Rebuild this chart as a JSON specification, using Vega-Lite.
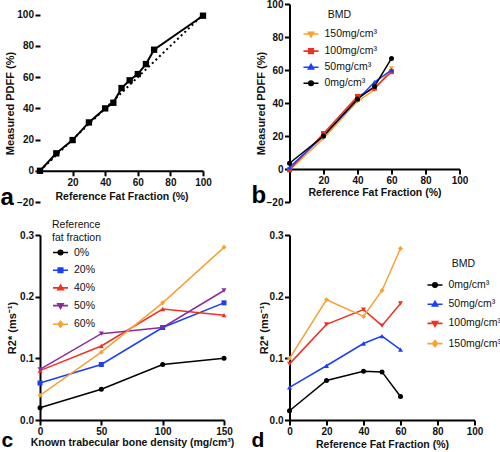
{
  "$schema": "https://vega.github.io/schema/vega-lite/v6.json",
  "padding": {"left": 0, "top": -1, "right": 0, "bottom": 0},
  "autosize": {"type": "pad"},
  "columns": 2,
  "bounds": "flush",
  "spacing": {"row": 33, "column": 65.5},
  "datasets": {
    "ident": [{"ref": 0, "pdff": 0}, {"ref": 100, "pdff": 100}],
    "a": [
      {"ref": 0, "pdff": 0}, {"ref": 10, "pdff": 11.2}, {"ref": 20, "pdff": 19.7}, {"ref": 30, "pdff": 31},
      {"ref": 40, "pdff": 40}, {"ref": 45, "pdff": 43.6}, {"ref": 50, "pdff": 53}, {"ref": 55, "pdff": 58},
      {"ref": 60, "pdff": 62}, {"ref": 65, "pdff": 68.4}, {"ref": 70, "pdff": 77.6}, {"ref": 100, "pdff": 99.4}
    ],
    "b": [
      {"bmd": "150mg/cm³", "ref": 0, "pdff": -0.5}, {"bmd": "150mg/cm³", "ref": 20, "pdff": 18.5}, {"bmd": "150mg/cm³", "ref": 40, "pdff": 41}, {"bmd": "150mg/cm³", "ref": 50, "pdff": 48}, {"bmd": "150mg/cm³", "ref": 60, "pdff": 61},
      {"bmd": "100mg/cm³", "ref": 0, "pdff": -0.5}, {"bmd": "100mg/cm³", "ref": 20, "pdff": 21.5}, {"bmd": "100mg/cm³", "ref": 40, "pdff": 44}, {"bmd": "100mg/cm³", "ref": 50, "pdff": 49}, {"bmd": "100mg/cm³", "ref": 60, "pdff": 59},
      {"bmd": "50mg/cm³", "ref": 0, "pdff": 1}, {"bmd": "50mg/cm³", "ref": 20, "pdff": 20}, {"bmd": "50mg/cm³", "ref": 40, "pdff": 42}, {"bmd": "50mg/cm³", "ref": 50, "pdff": 52.7}, {"bmd": "50mg/cm³", "ref": 60, "pdff": 60},
      {"bmd": "0mg/cm³", "ref": 0, "pdff": 3.5}, {"bmd": "0mg/cm³", "ref": 20, "pdff": 20}, {"bmd": "0mg/cm³", "ref": 40, "pdff": 42.5}, {"bmd": "0mg/cm³", "ref": 50, "pdff": 50}, {"bmd": "0mg/cm³", "ref": 60, "pdff": 67}
    ],
    "c": [
      {"ff": "0%", "bmd": 0, "r2": 0.02}, {"ff": "0%", "bmd": 50, "r2": 0.05}, {"ff": "0%", "bmd": 100, "r2": 0.09}, {"ff": "0%", "bmd": 150, "r2": 0.10},
      {"ff": "20%", "bmd": 0, "r2": 0.06}, {"ff": "20%", "bmd": 50, "r2": 0.09}, {"ff": "20%", "bmd": 100, "r2": 0.15}, {"ff": "20%", "bmd": 150, "r2": 0.19},
      {"ff": "40%", "bmd": 0, "r2": 0.08}, {"ff": "40%", "bmd": 50, "r2": 0.12}, {"ff": "40%", "bmd": 100, "r2": 0.18}, {"ff": "40%", "bmd": 150, "r2": 0.17},
      {"ff": "50%", "bmd": 0, "r2": 0.082}, {"ff": "50%", "bmd": 50, "r2": 0.14}, {"ff": "50%", "bmd": 100, "r2": 0.15}, {"ff": "50%", "bmd": 150, "r2": 0.21},
      {"ff": "60%", "bmd": 0, "r2": 0.04}, {"ff": "60%", "bmd": 50, "r2": 0.11}, {"ff": "60%", "bmd": 100, "r2": 0.19}, {"ff": "60%", "bmd": 150, "r2": 0.28}
    ],
    "d": [
      {"bmd": "0mg/cm³", "ff": 0, "r2": 0.015}, {"bmd": "0mg/cm³", "ff": 20, "r2": 0.064}, {"bmd": "0mg/cm³", "ff": 40, "r2": 0.079}, {"bmd": "0mg/cm³", "ff": 50, "r2": 0.078}, {"bmd": "0mg/cm³", "ff": 60, "r2": 0.038},
      {"bmd": "50mg/cm³", "ff": 0, "r2": 0.053}, {"bmd": "50mg/cm³", "ff": 20, "r2": 0.088}, {"bmd": "50mg/cm³", "ff": 40, "r2": 0.124}, {"bmd": "50mg/cm³", "ff": 50, "r2": 0.136}, {"bmd": "50mg/cm³", "ff": 60, "r2": 0.114},
      {"bmd": "100mg/cm³", "ff": 0, "r2": 0.091}, {"bmd": "100mg/cm³", "ff": 20, "r2": 0.155}, {"bmd": "100mg/cm³", "ff": 40, "r2": 0.179}, {"bmd": "100mg/cm³", "ff": 50, "r2": 0.153}, {"bmd": "100mg/cm³", "ff": 60, "r2": 0.189},
      {"bmd": "150mg/cm³", "ff": 0, "r2": 0.1}, {"bmd": "150mg/cm³", "ff": 20, "r2": 0.195}, {"bmd": "150mg/cm³", "ff": 40, "r2": 0.168}, {"bmd": "150mg/cm³", "ff": 50, "r2": 0.21}, {"bmd": "150mg/cm³", "ff": 60, "r2": 0.278}
    ]
  },
  "concat": [
    {
      "width": 163, "height": 198,
      "title": {"text": "a", "orient": "bottom", "anchor": "start", "frame": "group", "fontSize": 24, "fontWeight": "bold", "color": "#000", "dx": -39.5, "dy": -25},
      "encoding": {
        "x": {"field": "ref", "type": "quantitative", "scale": {"domain": [0, 100], "nice": false, "zero": false}, "axis": {"title": "Reference Fat Fraction (%)", "values": [20, 40, 60, 80, 100], "offset": -31.2, "titlePadding": 4}},
        "y": {"field": "pdff", "type": "quantitative", "scale": {"domain": [-20, 106.9], "nice": false, "zero": false}, "axis": {"title": "Measured PDFF (%)", "values": [-20, 0, 20, 40, 60, 80, 100], "domain": false, "titlePadding": 1}}
      },
      "layer": [
        {"data": {"name": "ident"}, "mark": {"type": "line", "color": "#000", "strokeWidth": 2, "strokeDash": [2, 3]}},
        {"data": {"values": [{}]}, "mark": {"type": "rule", "color": "#000", "strokeWidth": 2}, "encoding": {"x": {"datum": 0, "type": "quantitative"}, "y": {"datum": -20, "type": "quantitative"}, "y2": {"datum": 100}}},
        {"data": {"name": "a"}, "mark": {"type": "line", "color": "#000", "strokeWidth": 2, "point": {"shape": "square", "size": 40, "filled": true, "color": "#000", "opacity": 1}}}
      ]
    },
    {
      "width": 170, "height": 198,
      "title": {"text": "b", "orient": "bottom", "anchor": "start", "frame": "group", "fontSize": 24, "fontWeight": "bold", "color": "#000", "dx": -38, "dy": -27},
      "encoding": {
        "x": {"field": "ref", "type": "quantitative", "scale": {"domain": [0, 100], "nice": false, "zero": false}, "axis": {"title": "Reference Fat Fraction (%)", "values": [20, 40, 60, 80, 100], "offset": -33, "titlePadding": 2}},
        "y": {"field": "pdff", "type": "quantitative", "scale": {"domain": [-20, 100], "nice": false, "zero": false}, "axis": {"title": "Measured PDFF (%)", "values": [-20, 0, 20, 40, 60, 80, 100], "titlePadding": 0}}
      },
      "layer": [
        {"data": {"name": "b"}, "mark": {"type": "line", "strokeWidth": 1.5},
         "encoding": {"color": {"field": "bmd", "type": "nominal", "scale": {"domain": ["150mg/cm³", "100mg/cm³", "50mg/cm³", "0mg/cm³"], "range": ["#f7a232", "#ee3124", "#1c3ff2", "#000000"]}, "legend": null}}},
        {"data": {"name": "b"}, "mark": {"type": "point", "filled": true, "size": 25, "opacity": 1},
         "encoding": {
           "color": {"field": "bmd", "type": "nominal", "scale": {"domain": ["150mg/cm³", "100mg/cm³", "50mg/cm³", "0mg/cm³"], "range": ["#f7a232", "#ee3124", "#1c3ff2", "#000000"]}, "legend": null},
           "shape": {"field": "bmd", "type": "nominal", "scale": {"domain": ["150mg/cm³", "100mg/cm³", "50mg/cm³", "0mg/cm³"], "range": ["triangle-down", "square", "triangle-up", "circle"]}, "legend": null}}},
        {"data": {"values": []}, "mark": {"type": "point", "filled": false, "size": 225, "strokeWidth": 1.6, "opacity": 1},
         "encoding": {
           "x": {"datum": 0, "type": "quantitative"}, "y": {"datum": 0, "type": "quantitative"},
           "color": {"field": "bmd", "type": "nominal", "scale": {"domain": ["150mg/cm³", "100mg/cm³", "50mg/cm³", "0mg/cm³"], "range": ["#f7a232", "#ee3124", "#1c3ff2", "#000000"]},
             "legend": {"orient": "none", "legendX": 13, "legendY": 6, "title": "BMD", "titleAnchor": "middle", "symbolSize": 225, "symbolStrokeWidth": 1.6, "symbolOpacity": 1, "symbolFillColor": "transparent", "labelOffset": 5, "rowPadding": 2.1, "titlePadding": 5}},
           "shape": {"field": "bmd", "type": "nominal", "scale": {"domain": ["150mg/cm³", "100mg/cm³", "50mg/cm³", "0mg/cm³"], "range": ["M-1,0H1M0,0.38L0.35,-0.24H-0.35ZM0,0.1L0.1,-0.08H-0.1Z", "M-1,0H1M-0.3,-0.3H0.3V0.3H-0.3ZM-0.1,-0.1H0.1V0.1H-0.1Z", "M-1,0H1M0,-0.38L0.35,0.24H-0.35ZM0,-0.1L0.1,0.08H-0.1Z", "M-1,0H1M0.3,0A0.3,0.3,0,1,1,-0.3,0A0.3,0.3,0,1,1,0.3,0ZM0.1,0A0.1,0.1,0,1,1,-0.1,0A0.1,0.1,0,1,1,0.1,0Z"]},
             "legend": {"orient": "none", "legendX": 13, "legendY": 6, "title": "BMD", "titleAnchor": "middle", "symbolSize": 225, "symbolStrokeWidth": 1.6, "symbolOpacity": 1, "symbolFillColor": "transparent", "labelOffset": 5, "rowPadding": 2.1, "titlePadding": 5}}}}
      ],
      "resolve": {"scale": {"color": "independent", "shape": "independent"}}
    },
    {
      "width": 184, "height": 185,
      "title": {"text": "c", "orient": "bottom", "anchor": "start", "frame": "group", "fontSize": 21, "fontWeight": "bold", "color": "#000", "dx": -38.5, "dy": -22},
      "encoding": {
        "x": {"field": "bmd", "type": "quantitative", "scale": {"domain": [0, 150], "nice": false}, "axis": {"title": "Known trabecular bone density (mg/cm³)", "values": [0, 50, 100, 150], "titlePadding": 1, "labelPadding": 1}},
        "y": {"field": "r2", "type": "quantitative", "scale": {"domain": [0, 0.3], "nice": false}, "axis": {"title": "R2* (ms⁻¹)", "values": [0, 0.1, 0.2, 0.3], "format": ".1f", "titlePadding": 2}}
      },
      "layer": [
        {"data": {"name": "c"}, "mark": {"type": "line", "strokeWidth": 1.5},
         "encoding": {"color": {"field": "ff", "type": "nominal", "scale": {"domain": ["0%", "20%", "40%", "50%", "60%"], "range": ["#000000", "#1c3ff2", "#ee3124", "#8a2d9b", "#f7a232"]}, "legend": null}}},
        {"data": {"name": "c"}, "mark": {"type": "point", "filled": true, "size": 25, "opacity": 1},
         "encoding": {
           "color": {"field": "ff", "type": "nominal", "scale": {"domain": ["0%", "20%", "40%", "50%", "60%"], "range": ["#000000", "#1c3ff2", "#ee3124", "#8a2d9b", "#f7a232"]}, "legend": null},
           "shape": {"field": "ff", "type": "nominal", "scale": {"domain": ["0%", "20%", "40%", "50%", "60%"], "range": ["circle", "square", "triangle-up", "triangle-down", "diamond"]}, "legend": null}}},
        {"data": {"values": []}, "mark": {"type": "point", "filled": false, "size": 225, "strokeWidth": 1.6, "opacity": 1},
         "encoding": {
           "x": {"datum": 0, "type": "quantitative"}, "y": {"datum": 0, "type": "quantitative"},
           "color": {"field": "ff", "type": "nominal", "scale": {"domain": ["0%", "20%", "40%", "50%", "60%"], "range": ["#000000", "#1c3ff2", "#ee3124", "#8a2d9b", "#f7a232"]},
             "legend": {"orient": "none", "legendX": 12, "legendY": -15, "title": ["Reference", "fat fraction"], "titleLineHeight": 12.5, "titleAnchor": "start", "symbolSize": 225, "symbolStrokeWidth": 1.6, "symbolOpacity": 1, "symbolFillColor": "transparent", "labelOffset": 5, "rowPadding": 3.7, "titlePadding": 1}},
           "shape": {"field": "ff", "type": "nominal", "scale": {"domain": ["0%", "20%", "40%", "50%", "60%"], "range": ["M-1,0H1M0.3,0A0.3,0.3,0,1,1,-0.3,0A0.3,0.3,0,1,1,0.3,0ZM0.1,0A0.1,0.1,0,1,1,-0.1,0A0.1,0.1,0,1,1,0.1,0Z", "M-1,0H1M-0.3,-0.3H0.3V0.3H-0.3ZM-0.1,-0.1H0.1V0.1H-0.1Z", "M-1,0H1M0,-0.38L0.35,0.24H-0.35ZM0,-0.1L0.1,0.08H-0.1Z", "M-1,0H1M0,0.38L0.35,-0.24H-0.35ZM0,0.1L0.1,-0.08H-0.1Z", "M-1,0H1M0,-0.4L0.32,0L0,0.4L-0.32,0ZM0,-0.12L0.1,0L0,0.12L-0.1,0Z"]},
             "legend": {"orient": "none", "legendX": 12, "legendY": -15, "title": ["Reference", "fat fraction"], "titleLineHeight": 12.5, "titleAnchor": "start", "symbolSize": 225, "symbolStrokeWidth": 1.6, "symbolOpacity": 1, "symbolFillColor": "transparent", "labelOffset": 5, "rowPadding": 3.7, "titlePadding": 1}}}}
      ],
      "resolve": {"scale": {"color": "independent", "shape": "independent"}}
    },
    {
      "width": 185, "height": 185,
      "title": {"text": "d", "orient": "bottom", "anchor": "start", "frame": "group", "fontSize": 21, "fontWeight": "bold", "color": "#000", "dx": -38, "dy": -24},
      "encoding": {
        "x": {"field": "ff", "type": "quantitative", "scale": {"domain": [0, 100], "nice": false}, "axis": {"title": "Reference Fat Fraction (%)", "values": [0, 20, 40, 60, 80, 100], "titlePadding": 3}},
        "y": {"field": "r2", "type": "quantitative", "scale": {"domain": [0, 0.3], "nice": false}, "axis": {"title": "R2* (ms⁻¹)", "values": [0, 0.1, 0.2, 0.3], "format": ".1f", "titlePadding": 0}}
      },
      "layer": [
        {"data": {"name": "d"}, "mark": {"type": "line", "strokeWidth": 1.5},
         "encoding": {"color": {"field": "bmd", "type": "nominal", "scale": {"domain": ["0mg/cm³", "50mg/cm³", "100mg/cm³", "150mg/cm³"], "range": ["#000000", "#1c3ff2", "#ee3124", "#f7a232"]}, "legend": null}}},
        {"data": {"name": "d"}, "mark": {"type": "point", "filled": true, "size": 25, "opacity": 1},
         "encoding": {
           "color": {"field": "bmd", "type": "nominal", "scale": {"domain": ["0mg/cm³", "50mg/cm³", "100mg/cm³", "150mg/cm³"], "range": ["#000000", "#1c3ff2", "#ee3124", "#f7a232"]}, "legend": null},
           "shape": {"field": "bmd", "type": "nominal", "scale": {"domain": ["0mg/cm³", "50mg/cm³", "100mg/cm³", "150mg/cm³"], "range": ["circle", "triangle-up", "triangle-down", "diamond"]}, "legend": null}}},
        {"data": {"values": []}, "mark": {"type": "point", "filled": false, "size": 225, "strokeWidth": 1.6, "opacity": 1},
         "encoding": {
           "x": {"datum": 0, "type": "quantitative"}, "y": {"datum": 0, "type": "quantitative"},
           "color": {"field": "bmd", "type": "nominal", "scale": {"domain": ["0mg/cm³", "50mg/cm³", "100mg/cm³", "150mg/cm³"], "range": ["#000000", "#1c3ff2", "#ee3124", "#f7a232"]},
             "legend": {"orient": "none", "legendX": 137, "legendY": 24, "title": "BMD", "titleAnchor": "middle", "symbolSize": 225, "symbolStrokeWidth": 1.6, "symbolOpacity": 1, "symbolFillColor": "transparent", "labelOffset": 5, "rowPadding": 5.2, "titlePadding": 7}},
           "shape": {"field": "bmd", "type": "nominal", "scale": {"domain": ["0mg/cm³", "50mg/cm³", "100mg/cm³", "150mg/cm³"], "range": ["M-1,0H1M0.3,0A0.3,0.3,0,1,1,-0.3,0A0.3,0.3,0,1,1,0.3,0ZM0.1,0A0.1,0.1,0,1,1,-0.1,0A0.1,0.1,0,1,1,0.1,0Z", "M-1,0H1M0,-0.38L0.35,0.24H-0.35ZM0,-0.1L0.1,0.08H-0.1Z", "M-1,0H1M0,0.38L0.35,-0.24H-0.35ZM0,0.1L0.1,-0.08H-0.1Z", "M-1,0H1M0,-0.4L0.32,0L0,0.4L-0.32,0ZM0,-0.12L0.1,0L0,0.12L-0.1,0Z"]},
             "legend": {"orient": "none", "legendX": 137, "legendY": 24, "title": "BMD", "titleAnchor": "middle", "symbolSize": 225, "symbolStrokeWidth": 1.6, "symbolOpacity": 1, "symbolFillColor": "transparent", "labelOffset": 5, "rowPadding": 5.2, "titlePadding": 7}}}}
      ],
      "resolve": {"scale": {"color": "independent", "shape": "independent"}}
    }
  ],
  "resolve": {"scale": {"x": "independent", "y": "independent", "color": "independent", "shape": "independent"}},
  "config": {
    "font": "Liberation Sans",
    "view": {"stroke": null},
    "axis": {
      "grid": false, "domainColor": "#000", "domainWidth": 2, "tickColor": "#000", "tickWidth": 2, "tickSize": 5,
      "labelFont": "Liberation Sans", "labelFontSize": 10, "labelFontWeight": "bold", "labelColor": "#111", "labelPadding": 1.5, "labelFlush": false,
      "titleFont": "Liberation Sans", "titleFontSize": 10.5, "titleFontWeight": "bold", "titleColor": "#111"
    },
    "axisY": {"titleFontSize": 11},
    "legend": {"labelFont": "Liberation Sans", "titleFont": "Liberation Sans", "labelFontSize": 10.5, "titleFontSize": 10.5, "titleFontWeight": "normal", "labelColor": "#111", "titleColor": "#111", "padding": 0},
    "title": {"font": "Liberation Sans"}
  }
}
